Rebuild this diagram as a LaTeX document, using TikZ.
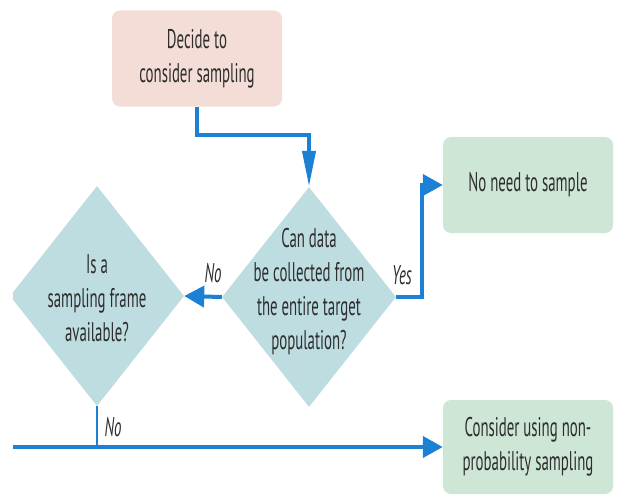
\documentclass[tikz,border=0pt]{standalone}
\usepackage{fontspec}
\setmainfont{PT Sans}[FakeStretch=0.55]
\usetikzlibrary{
    arrows.meta,
    shapes.geometric
}

\definecolor{flowblue}{RGB}{28,128,212}
\definecolor{startpink}{RGB}{243,221,214}
\definecolor{endgreen}{RGB}{206,230,214}
\definecolor{askteal}{RGB}{190,221,225}
\definecolor{textgray}{RGB}{45,45,45}

\begin{document}
\begin{tikzpicture}[x=1pt,y=-1pt,
    boxtext/.style={text=textgray, align=center, font=\fontsize{27}{34}\selectfont},
    flowbox/.style={boxtext, rounded corners=8pt, minimum width=170pt, minimum height=96pt, inner sep=0pt},
    askshape/.style={diamond, fill=askteal, minimum width=174pt, minimum height=220pt, inner sep=0pt},
    answer/.style={text=textgray, font=\fontsize{27}{34}\selectfont\itshape},
    flow/.style={draw=flowblue, line width=4pt, -{Triangle[length=20pt,width=21pt]}},
    flowdown/.style={draw=flowblue, line width=4pt, -{Triangle[length=36pt,width=13pt]}},
    flowthin/.style={draw=flowblue, line width=2pt}
]
\useasboundingbox (0,0) rectangle (617,495);
\begin{scope}
\clip (13,0) rectangle (617,495);

% Boxes
\node[flowbox, fill=startpink] (start) at (197,58.5) {Decide to\\consider sampling};
\node[flowbox, fill=endgreen] (nosample) at (528,185) {No need to sample};
\node[flowbox, fill=endgreen, minimum height=94pt] (nonprob) at (528,447) {Consider using non-\\probability sampling};

% Questions
\node[askshape] (whole) at (309,297) {};
\node[boxtext] at (309,292) {Can data\\be collected from\\the entire target\\population?};
\node[askshape] (frame) at (97,296) {};
\node[boxtext] at (97,298) {Is a\\sampling frame\\available?};

% Connectors
\coordinate (cutoff) at (0,447);
\draw[flowdown] (start.south) -- ++(0,28) -| (whole.north);
\draw[flow] (whole.east) -- ++(26,0) |- (nosample.west);
\draw[flow] (whole.west) -- (frame.east);
\draw[flowthin] (frame.south) -- (frame.south |- cutoff);
\draw[flow] (cutoff) -- (nonprob.west);

% Answers
\node[answer] at (402,275) {Yes};
\node[answer] at (213,273) {No};
\node[answer] at (113,427) {No};
\end{scope}

\end{tikzpicture}
\end{document}
